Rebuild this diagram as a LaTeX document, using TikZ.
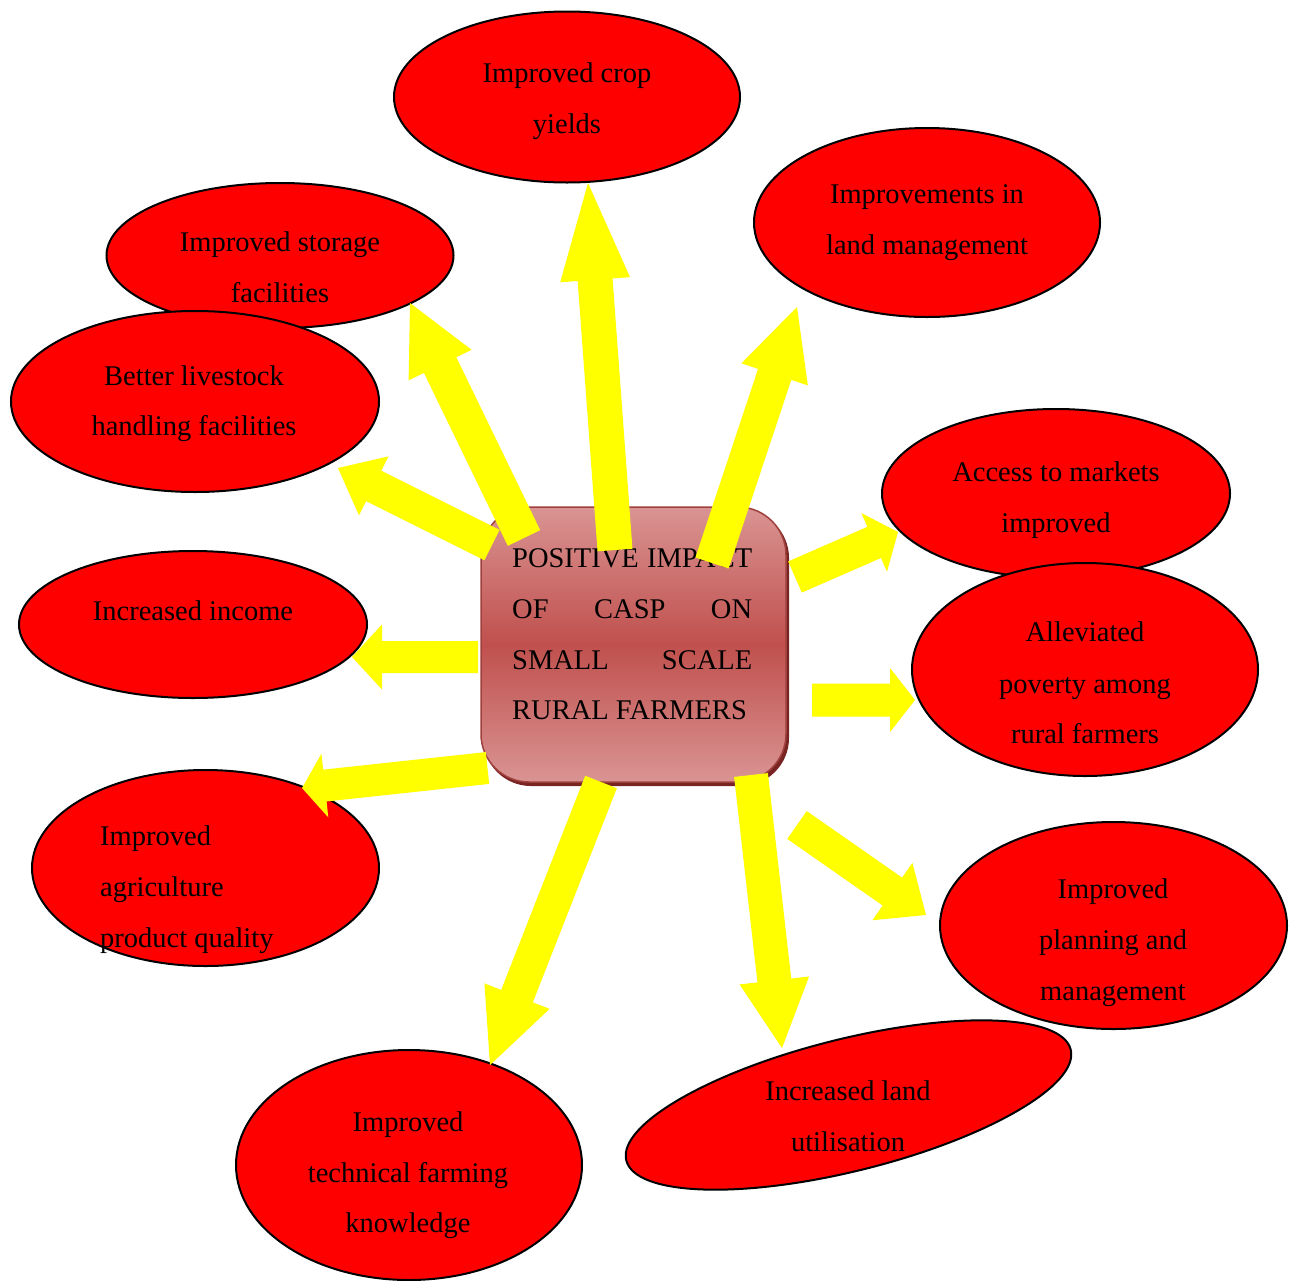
\documentclass[tikz,border=0pt]{standalone}
\usepackage{fontspec}
\setmainfont{Liberation Serif}
\usetikzlibrary{shapes.geometric,calc}
\definecolor{boxlight}{RGB}{217,148,147}
\definecolor{boxmid}{RGB}{192,80,77}
\definecolor{boxedge}{RGB}{160,64,61}
\definecolor{boxshadow}{RGB}{120,36,34}
\definecolor{pureyellow}{RGB}{255,255,0}
\newcommand\blockarrow[5]{%
  \coordinate (hb) at ($(#2)!#5!(#1)$);
  \fill[yarrow] ($(#1)!#3!90:(#2)$) -- ($(hb)!#3!-90:(#1)$) -- ($(hb)!#4!-90:(#1)$) -- (#2)
    -- ($(hb)!#4!90:(#1)$) -- ($(hb)!#3!90:(#1)$) -- ($(#1)!#3!-90:(#2)$) -- cycle;
}
\begin{document}
\begin{tikzpicture}[x=1pt,y=-1pt,
  ell/.style={ellipse, draw=black, line width=2pt, fill=red, inner sep=0pt},
  lbl/.style={anchor=base, inner sep=0pt, font=\fontsize{28.5}{34}\selectfont},
  lbll/.style={lbl, anchor=base west},
  yarrow/.style={fill=pureyellow}]
\useasboundingbox (0,0) rectangle (1295,1280);
% ellipses
\node[ell, minimum width=346pt, minimum height=171pt] (e1) at (567,97) {};
\node[ell, minimum width=346pt, minimum height=189pt] (e2) at (927,222.5) {};
\node[ell, minimum width=347pt, minimum height=145pt] (e3) at (280,255.5) {};
\node[ell, minimum width=368pt, minimum height=181pt] (e4) at (195,401.5) {};
\node[ell, minimum width=348pt, minimum height=169pt] (e5) at (1056,493.5) {};
\node[ell, minimum width=346pt, minimum height=213pt] (e6) at (1085,669.5) {};
\node[ell, minimum width=348pt, minimum height=147pt] (e7) at (193,624.5) {};
\node[ell, minimum width=347pt, minimum height=196pt] (e8) at (205.5,868) {};
\node[ell, minimum width=347pt, minimum height=207pt] (e9) at (1113.5,925.5) {};
\node[ell, minimum width=458pt, minimum height=132pt, rotate=14] (e10) at (848.5,1105) {};
\node[ell, minimum width=346pt, minimum height=230pt] (e11) at (409,1165) {};
% labels
\node[lbl] (l1a) at (567,82.5) {Improved crop};
\node[lbl] (l1b) at (567,133.5) {yields};
\node[lbl] (l2a) at (927,203.5) {Improvements in};
\node[lbl] (l2b) at (927,254.5) {land management};
\node[lbl] (l3a) at (280,251.5) {Improved storage};
\node[lbl] (l3b) at (280,302.5) {facilities};
\node[lbl] (l4a) at (194,385.5) {Better livestock};
\node[lbl] (l4b) at (194,435.5) {handling facilities};
\node[lbl] (l5a) at (1056,481.5) {Access to markets};
\node[lbl] (l5b) at (1056,532.5) {improved};
\node[lbl] (l6a) at (1085,641.5) {Alleviated};
\node[lbl] (l6b) at (1085,693.5) {poverty among};
\node[lbl] (l6c) at (1085,743.5) {rural farmers};
\node[lbl] (l7a) at (193,620.5) {Increased income};
\node[lbll] (l8a) at (100,845.5) {Improved};
\node[lbll] (l8b) at (100,896.5) {agriculture};
\node[lbll] (l8c) at (100,947.5) {product quality};
\node[lbl] (l9a) at (1113,898.5) {Improved};
\node[lbl] (l9b) at (1113,949.5) {planning and};
\node[lbl] (l9c) at (1113,1000.5) {management};
\node[lbl] (l10a) at (848,1100.5) {Increased land};
\node[lbl] (l10b) at (848,1151.5) {utilisation};
\node[lbl] (l11a) at (408,1131.5) {Improved};
\node[lbl] (l11b) at (408,1182.5) {technical farming};
\node[lbl] (l11c) at (408,1232.5) {knowledge};
% central box
\fill[boxshadow, rounded corners=48pt] (483,510) rectangle (789,786);
\shade[rounded corners=48pt, top color=boxlight, bottom color=boxlight, middle color=boxmid]
  (481,507) rectangle (786,782);
\draw[boxedge, line width=1.5pt, rounded corners=48pt] (481,507) rectangle (786,782);
\node[lbll] (c1) at (512,567) {\makebox[240pt][s]{POSITIVE IMPACT}};
\node[lbll] (c2) at (512,618) {\makebox[240pt][s]{OF CASP ON}};
\node[lbll] (c3) at (512,669) {\makebox[240pt][s]{SMALL SCALE}};
\node[lbll] (c4) at (512,719.5) {RURAL FARMERS};
% arrow end points
\coordinate (t1) at (615,550);   \coordinate (p1) at (588,183);
\coordinate (t2) at (712,563);   \coordinate (p2) at (797,307);
\coordinate (t3) at (795,577);   \coordinate (p3) at (898,532);
\coordinate (t4) at (812,700);   \coordinate (p4) at (915,700);
\coordinate (t5) at (797,825);   \coordinate (p5) at (926,915);
\coordinate (t6) at (751,775);   \coordinate (p6) at (782,1048);
\coordinate (t7) at (601,782);   \coordinate (p7) at (490,1065);
\coordinate (t8) at (487.5,768); \coordinate (p8) at (302,788);
\coordinate (t9) at (478,657);   \coordinate (p9) at (352,657);
\coordinate (t10) at (492,545);  \coordinate (p10) at (338,468);
\coordinate (t11) at (524,538);  \coordinate (p11) at (410,303);
% arrows
\blockarrow{t1}{p1}{17.5pt}{35pt}{97pt}
\blockarrow{t2}{p2}{17.5pt}{35pt}{71pt}
\blockarrow{t3}{p3}{17pt}{32pt}{26pt}
\blockarrow{t4}{p4}{16.5pt}{32pt}{25pt}
\blockarrow{t5}{p5}{17pt}{35pt}{41pt}
\blockarrow{t6}{p6}{17pt}{35pt}{68pt}
\blockarrow{t7}{p7}{17pt}{35pt}{74pt}
\blockarrow{t8}{p8}{16pt}{32pt}{23pt}
\blockarrow{t9}{p9}{16pt}{32.5pt}{30pt}
\blockarrow{t10}{p10}{17pt}{33pt}{40pt}
\blockarrow{t11}{p11}{18pt}{35pt}{69pt}
\end{tikzpicture}
\end{document}
